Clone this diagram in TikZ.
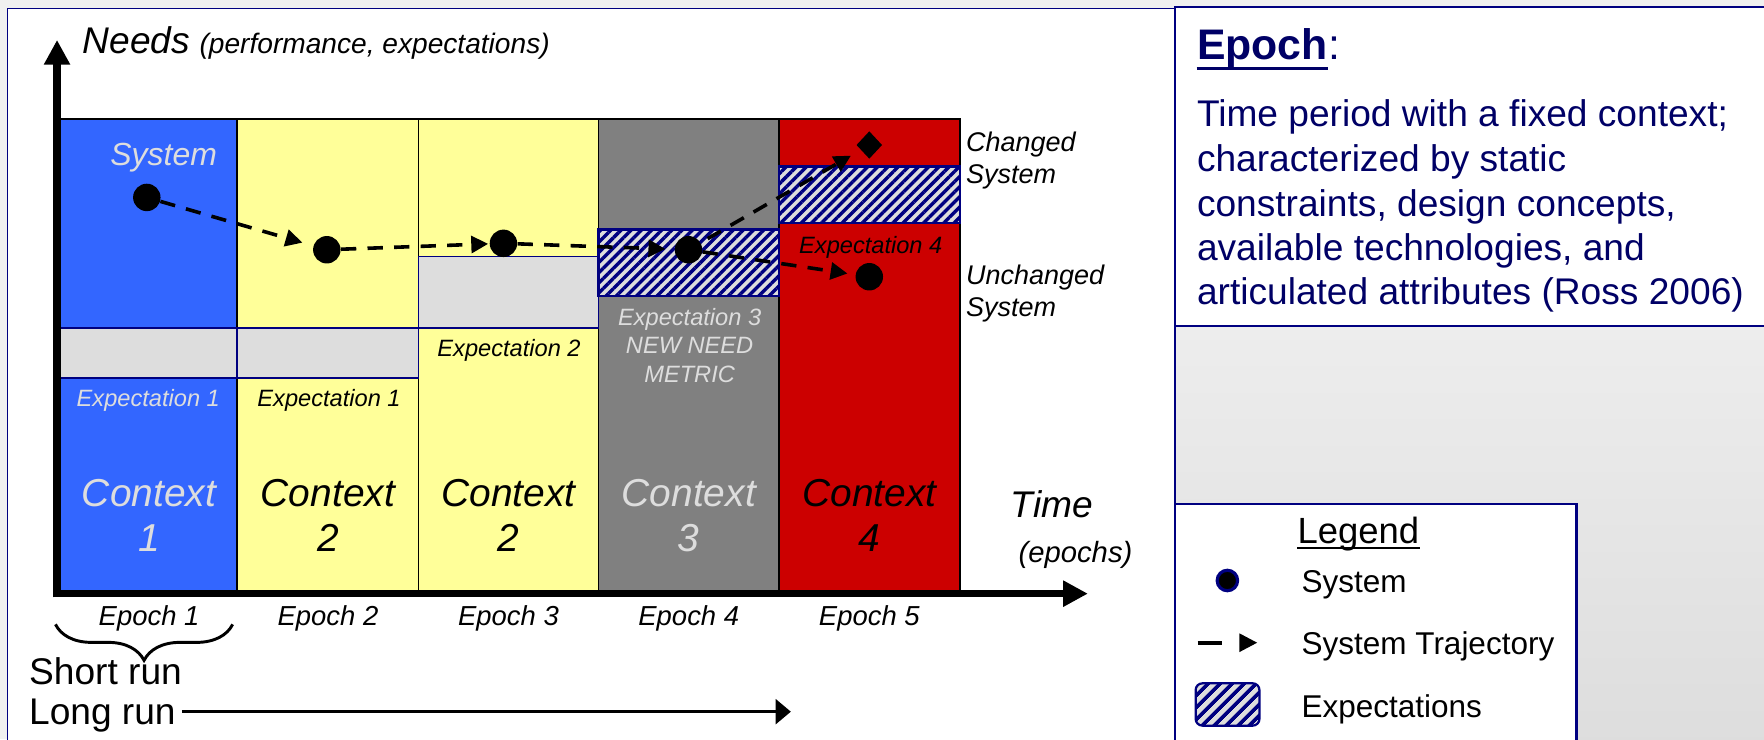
\documentclass[tikz,border=0pt]{standalone}
\usepackage{fontspec}
\setmainfont{Liberation Sans}
\usetikzlibrary{shapes.geometric,arrows.meta,patterns.meta,decorations.pathreplacing}
\definecolor{bgc}{HTML}{F0F0F0}
\definecolor{nav}{HTML}{000080}
\definecolor{navtxt}{HTML}{000066}
\definecolor{cblue}{HTML}{3366FF}
\definecolor{cyel}{HTML}{FFFF99}
\definecolor{cgray}{HTML}{808080}
\definecolor{cred}{HTML}{CC0000}
\definecolor{band}{HTML}{DDDDDD}
\definecolor{ltxt}{HTML}{DDDDDD}
\definecolor{shadetop}{HTML}{EDEDED}
\definecolor{shadebot}{HTML}{DCDCDC}
\newcommand\myfs[1]{\fontsize{#1}{#1}\selectfont}
\begin{document}
\begin{tikzpicture}[x=0.5pt,y=-0.5pt,
 t/.style={inner sep=0pt, anchor=base},
 tw/.style={inner sep=0pt, anchor=base west},
 col/.style={draw=black, line width=0.8pt},
 gband/.style={fill=band, draw=nav, line width=0.8pt},
 hband/.style={draw=nav, line width=0.9pt, preaction={fill=band}, pattern={Lines[angle=45,distance=3.2pt,line width=1.5pt]}, pattern color=nav},
 dot/.style={circle, fill=black, inner sep=0pt, minimum size=12.2pt},
 traj/.style={line width=1.6pt, dash pattern=on 6.8pt off 5pt, -{Triangle[length=7.5pt,width=7.5pt]}},
 axis/.style={line width=3.2pt, -{Triangle[length=11pt,width=11pt]}},
 explab/.style={t, font=\myfs{10.5}\itshape},
 ctx/.style={t, font=\myfs{17.3}\itshape},
 eplab/.style={t, font=\myfs{12.2}\itshape},
 side/.style={tw, font=\myfs{12}\itshape},
 body/.style={tw, font=\myfs{16.5}, text=navtxt},
 legtxt/.style={tw, font=\myfs{14}},
]
\useasboundingbox (0,0) rectangle (1568,657);
\clip (0,0) rectangle (1568,657);
\fill[bgc] (0,0) rectangle (1568,657);
% panels
\draw[nav, line width=0.6pt, fill=white] (6.5,7.4) rectangle (1044.4,690);
\fill[white] (1044.4,6.5) rectangle (1580,290);
\shade[top color=shadetop, bottom color=shadebot] (1044.4,290) rectangle (1580,690);
\draw[nav, line width=1pt] (1580,6.5) -- (1044.4,6.5) -- (1044.4,690);
\draw[nav, line width=1pt] (1044.4,290) -- (1580,290);
\draw[nav, line width=1pt, fill=white] (1044.4,448) rectangle (1401.4,690);
% columns
\draw[col, fill=cblue] (52,106) rectangle (211,527);
\draw[col, fill=cyel] (211,106) rectangle (372,527);
\draw[col, fill=cyel] (372,106) rectangle (532,527);
\draw[col, fill=cgray] (532,106) rectangle (692.5,527);
\draw[col, fill=cred] (692.5,106) rectangle (853,527);
% bands
\draw[gband] (52,291.6) rectangle (211,336);
\draw[gband] (211,291.6) rectangle (372,336);
\draw[gband] (372,228) rectangle (532,291.6);
\draw[hband] (532,204) rectangle (692.5,263);
\draw[hband] (692.5,148) rectangle (853,198.5);
% axes
\coordinate (yo) at (50.7,531);
\coordinate (ytip) at (50.7,35.5);
\coordinate (xo) at (47.5,527.7);
\coordinate (xtip) at (967,527.7);
\draw[axis] (yo) -- (ytip);
\draw[axis] (xo) -- (xtip);
% axis labels
\node[tw, font=\myfs{16.5}\itshape] (needs) at (73,47.4) {Needs};
\node[tw, font=\myfs{12.5}\itshape] (perf) at (177,47.4) {(performance, expectations)};
\node[tw, font=\myfs{16.5}\itshape] (time) at (898,460) {Time};
\node[tw, font=\myfs{13}\itshape] (epochs) at (905,500) {(epochs)};
% column texts
\node[t, font=\myfs{14.2}\itshape, text=ltxt] (syslab) at (145.5,147.3) {System};
\node[explab, text=ltxt] (e1a) at (131.8,361.5) {Expectation 1};
\node[explab] (e1b) at (292.5,361.5) {Expectation 1};
\node[explab] (e2) at (452.5,317) {Expectation 2};
\node[explab, text=ltxt] (e3a) at (613,289) {Expectation 3};
\node[explab, text=ltxt] (e3b) at (613,314) {NEW NEED};
\node[explab, text=ltxt] (e3c) at (613,340) {METRIC};
\node[explab] (e4) at (774,225) {Expectation 4};
\node[ctx, text=ltxt] (c1a) at (132.5,450) {Context};
\node[ctx, text=ltxt] (c1b) at (132.5,490) {1};
\node[ctx] (c2a) at (291.5,450) {Context};
\node[ctx] (c2b) at (291.5,490) {2};
\node[ctx] (c3a) at (452,450) {Context};
\node[ctx] (c3b) at (452,490) {2};
\node[ctx, text=ltxt] (c4a) at (612.25,450) {Context};
\node[ctx, text=ltxt] (c4b) at (612.25,490) {3};
\node[ctx] (c5a) at (772.75,450) {Context};
\node[ctx] (c5b) at (772.75,490) {4};
% side labels
\node[side] (chg1) at (858.4,134.8) {Changed};
\node[side] (chg2) at (858.4,163) {System};
\node[side] (unc1) at (858.4,252.7) {Unchanged};
\node[side] (unc2) at (858.4,280.9) {System};
% epoch labels
\node[eplab] (ep1) at (132.5,556.4) {Epoch 1};
\node[eplab] (ep2) at (291.5,556.4) {Epoch 2};
\node[eplab] (ep3) at (452,556.4) {Epoch 3};
\node[eplab] (ep4) at (612.25,556.4) {Epoch 4};
\node[eplab] (ep5) at (772.75,556.4) {Epoch 5};
% systems and trajectory
\node[dot] (d1) at (130.5,175.5) {};
\node[dot] (d2) at (290.5,222) {};
\node[dot] (d3) at (447.5,216.3) {};
\node[dot] (d4) at (612,222) {};
\node[dot] (d5) at (772.7,246) {};
\node[diamond, fill=black, inner sep=0pt, minimum width=11.5pt, minimum height=12.3pt] (dm) at (772.7,128.9) {};
\draw[traj, shorten >=5pt] (d1) -- (d2);
\draw[traj, shorten >=0.5pt] (d2) -- (d3);
\draw[traj, shorten >=4pt] (d3) -- (d4);
\draw[traj, shorten <=3.5pt, shorten >=5pt] (d4) -- (dm);
\draw[traj, shorten >=3.5pt] (d4) -- (d5);
% brace and runs
\coordinate (bl) at (49.3,555);
\coordinate (br) at (206.8,555);
\draw[decorate, decoration={brace, mirror, amplitude=16pt}, line width=1.3pt] (bl) -- (br);
\node[tw, font=\myfs{16.5}] (srun) at (25.5,608) {Short run};
\node[tw, font=\myfs{16.5}] (lrun) at (25.5,644) {Long run};
\coordinate (lrtip) at (703,632.6);
\draw[line width=1.5pt, -{Triangle[length=6.8pt,width=11pt]}, shorten <=2.5pt] (lrun.east |- lrtip) -- (lrtip);
% right panel text
\node[tw, font=\myfs{19}\bfseries, text=navtxt] (epk) at (1063.6,53.3) {Epoch};
\node[tw, font=\myfs{19}, text=navtxt] (epc) at (epk.base east) {:};
\draw[navtxt, line width=1.5pt] ([yshift=-3.7pt]epk.base west) -- ([yshift=-3.7pt]epk.base east);
\node[body] (b1) at (1063.6,112.6) {Time period with a fixed context;};
\node[body] (b2) at (1063.6,152.6) {characterized by static};
\node[body] (b3) at (1063.6,192.6) {constraints, design concepts,};
\node[body] (b4) at (1063.6,231.5) {available technologies, and};
\node[body] (b5) at (1063.6,271) {articulated attributes (Ross 2006)};
% legend
\node[tw, font=\myfs{16.2}] (leg) at (1153,482.7) {Legend};
\draw[line width=1.1pt] ([yshift=-2.3pt]leg.base west) -- ([yshift=-2.3pt]leg.base east);
\node[circle, fill=black, draw=nav, line width=1.4pt, minimum size=9.1pt, inner sep=0pt] (lgd) at (1091,516) {};
\node[legtxt] (lgs) at (1156.6,526.5) {System};
\coordinate (lga) at (1064.6,571.3);
\coordinate (lgb) at (1117.7,571.3);
\draw[line width=1.75pt, dash pattern=on 11pt off 20pt, -{Triangle[length=8pt,width=7.8pt]}] (lga) -- (lgb);
\node[legtxt] (lgt) at (1156.6,582) {System Trajectory};
\draw[nav, line width=1pt, rounded corners=3pt, preaction={fill=band}, pattern={Lines[angle=45,distance=4pt,line width=1.8pt]}, pattern color=nav] (1062.8,607.4) rectangle (1119.5,645);
\node[legtxt] (lge) at (1156.6,637.6) {Expectations};
\end{tikzpicture}
\end{document}
